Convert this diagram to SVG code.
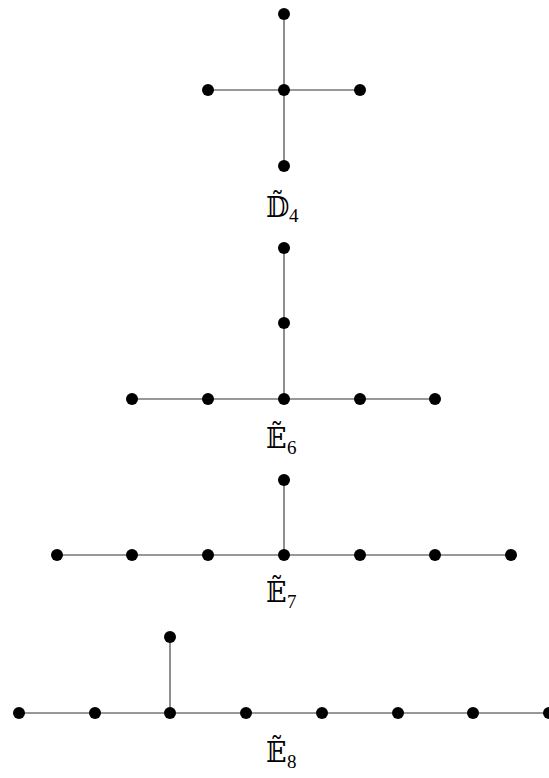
<svg xmlns="http://www.w3.org/2000/svg" width="549" height="778" viewBox="0 0 549 778">
<style>
.e{stroke:#333;stroke-width:1.1;fill:none}
.n{fill:#000}
.lb{font-family:"DejaVu Serif","Liberation Serif",serif;font-size:27px;fill:#000}
.sb{font-family:"Liberation Serif",serif;font-size:19px;fill:#000}
</style>
<rect width="549" height="778" fill="#fff"/>
<g id="connectors">
<path class="e" d="M284 14V166M208 90H360"/>
<path class="e" d="M284 248V399M132 399H435"/>
<path class="e" d="M284 480V555M57 555H511"/>
<path class="e" d="M170 637V713M19 713H549"/>
</g>
<g id="d4">
<circle class="n" cx="284" cy="14" r="6"/><circle class="n" cx="284" cy="90" r="6"/><circle class="n" cx="284" cy="166" r="6"/><circle class="n" cx="208" cy="90" r="6"/><circle class="n" cx="360" cy="90" r="6"/>
<text class="lb" x="266" y="217">𝔻̃</text><text class="sb" x="289" y="222">4</text>
</g>
<g id="e6">
<circle class="n" cx="284" cy="248" r="6"/><circle class="n" cx="284" cy="323" r="6"/><circle class="n" cx="132" cy="399" r="6"/><circle class="n" cx="208" cy="399" r="6"/><circle class="n" cx="284" cy="399" r="6"/><circle class="n" cx="360" cy="399" r="6"/><circle class="n" cx="435" cy="399" r="6"/>
<text class="lb" x="266" y="448">𝔼̃</text><text class="sb" x="287" y="454">6</text>
</g>
<g id="e7">
<circle class="n" cx="284" cy="480" r="6"/><circle class="n" cx="57" cy="555" r="6"/><circle class="n" cx="132" cy="555" r="6"/><circle class="n" cx="208" cy="555" r="6"/><circle class="n" cx="284" cy="555" r="6"/><circle class="n" cx="360" cy="555" r="6"/><circle class="n" cx="435" cy="555" r="6"/><circle class="n" cx="511" cy="555" r="6"/>
<text class="lb" x="266" y="602">𝔼̃</text><text class="sb" x="287" y="608">7</text>
</g>
<g id="e8">
<circle class="n" cx="170" cy="637" r="6"/><circle class="n" cx="19" cy="713" r="6"/><circle class="n" cx="95" cy="713" r="6"/><circle class="n" cx="170" cy="713" r="6"/><circle class="n" cx="246" cy="713" r="6"/><circle class="n" cx="322" cy="713" r="6"/><circle class="n" cx="398" cy="713" r="6"/><circle class="n" cx="473" cy="713" r="6"/><circle class="n" cx="549" cy="713" r="6"/>
<text class="lb" x="266" y="762">𝔼̃</text><text class="sb" x="287" y="768">8</text>
</g>
</svg>
